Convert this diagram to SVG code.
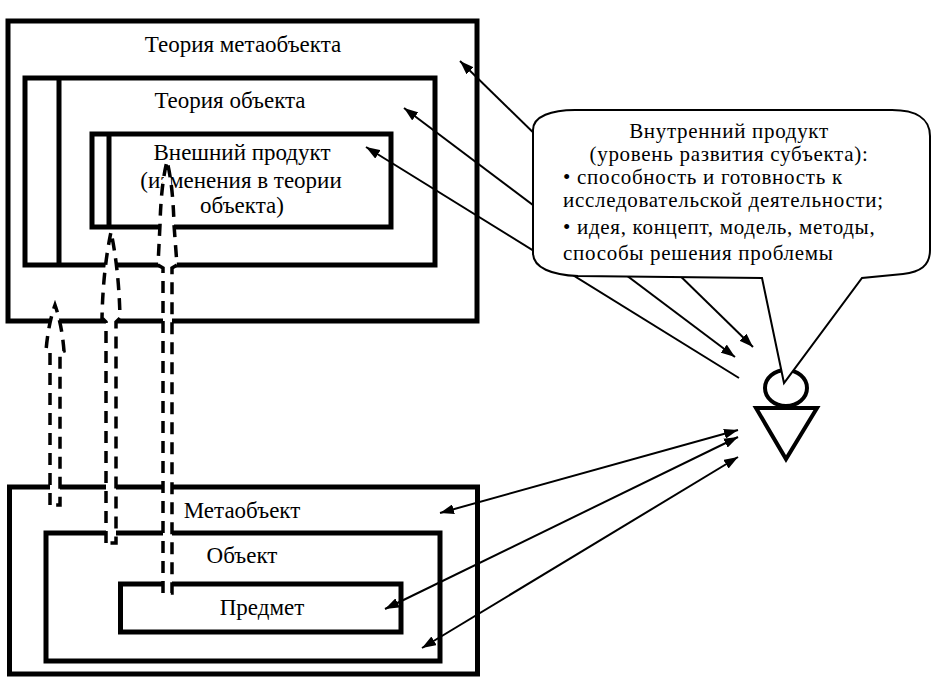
<svg xmlns="http://www.w3.org/2000/svg" width="937" height="685" viewBox="0 0 937 685">
<defs>
<style>
.box{fill:none;stroke:#000;stroke-width:5}
.t{font-family:"Liberation Serif","Times New Roman",serif;font-size:23px;fill:#000}
.b{font-size:21px;letter-spacing:0.7px}
.c{text-anchor:middle}
.dash{fill:#fff;stroke:#000;stroke-width:3.5;stroke-dasharray:12 8}
.con{fill:none;stroke:#000;stroke-width:2}
.fig{fill:#fff;stroke:#000;stroke-width:4}
</style>
<marker id="ah" markerUnits="userSpaceOnUse" viewBox="0 0 14 10" refX="14" refY="5" markerWidth="14" markerHeight="10" orient="auto-start-reverse">
<path d="M0,0 L14,5 L0,10 Z" fill="#000"/>
</marker>
</defs>
<rect width="937" height="685" fill="#fff"/>
<g id="theory-metaobject">
<rect class="box" x="8" y="21" width="469" height="300"/>
<text class="t c" x="243" y="52">Теория метаобъекта</text>
</g>
<g id="theory-object">
<rect class="box" x="25" y="78" width="410" height="187"/>
<line class="box" x1="59" y1="78" x2="59" y2="265"/>
<text class="t c" x="230" y="108">Теория объекта</text>
</g>
<g id="external-product">
<rect class="box" x="92" y="134" width="299" height="93"/>
<line class="box" x1="109" y1="134" x2="109" y2="227"/>
<text class="t c" x="242" y="160">Внешний продукт</text>
<text class="t c" x="241" y="188">(изменения в теории</text>
<text class="t c" x="242" y="213">объекта)</text>
</g>
<g id="metaobject">
<rect class="box" x="9.5" y="487" width="468" height="187"/>
<text class="t c" x="242" y="518">Метаобъект</text>
</g>
<g id="object">
<rect class="box" x="46" y="533" width="394" height="128"/>
<text class="t c" x="242" y="563">Объект</text>
</g>
<g id="subject-matter">
<rect class="box" x="120.5" y="584" width="280.5" height="48"/>
<text class="t c" x="262" y="615">Предмет</text>
</g>
<g id="connectors">
<path class="dash" d="M50,505 L50,352 L46,351 Q48,325 55,305 Q62,325 64,351 L60,352 L60,505 Z"/>
<path class="dash" d="M106,543 L106,322 L102,318 Q103,270 111,232 Q119,270 120,318 L116,322 L116,543 Z"/>
<path class="dash" d="M163,593 L163,268 L158,265 L160,225 Q161,185 167,161 Q173,185 174,225 L177,265 L172,268 L172,593 Z"/>
<line class="con" x1="753" y1="347" x2="460" y2="61" marker-start="url(#ah)" marker-end="url(#ah)"/>
<line class="con" x1="735" y1="357" x2="404" y2="108" marker-start="url(#ah)" marker-end="url(#ah)"/>
<line class="con" x1="739" y1="378" x2="366" y2="147" marker-end="url(#ah)"/>
<line class="con" x1="738" y1="430" x2="440" y2="513" marker-start="url(#ah)" marker-end="url(#ah)"/>
<line class="con" x1="738" y1="437" x2="385" y2="609" marker-start="url(#ah)" marker-end="url(#ah)"/>
<line class="con" x1="738" y1="457" x2="422" y2="648" marker-start="url(#ah)" marker-end="url(#ah)"/>
</g>
<g id="subject">
<ellipse class="fig" cx="786" cy="388" rx="21" ry="18"/>
<path class="fig" d="M756,408 L817,408 L786,459 Z"/>
</g>
<g id="internal-product">
<path d="M533,130 C533,116 552,110 575,110 L892,110 C915,110 930,118 930,136 L930,250 C930,266 920,272 903,274 L862,278 L784,383 L762,278 L578,276 C552,275 533,268 533,253 Z" fill="#fff" stroke="#000" stroke-width="2"/>
<text class="t b c" x="729" y="138">Внутренний продукт</text>
<text class="t b c" x="729" y="161">(уровень развития субъекта):</text>
<text class="t b" x="563" y="184">• способность и готовность к</text>
<text class="t b" x="563" y="207">исследовательской деятельности;</text>
<text class="t b" x="563" y="234">• идея, концепт, модель, методы,</text>
<text class="t b" x="563" y="260">способы решения проблемы</text>
</g>
</svg>
